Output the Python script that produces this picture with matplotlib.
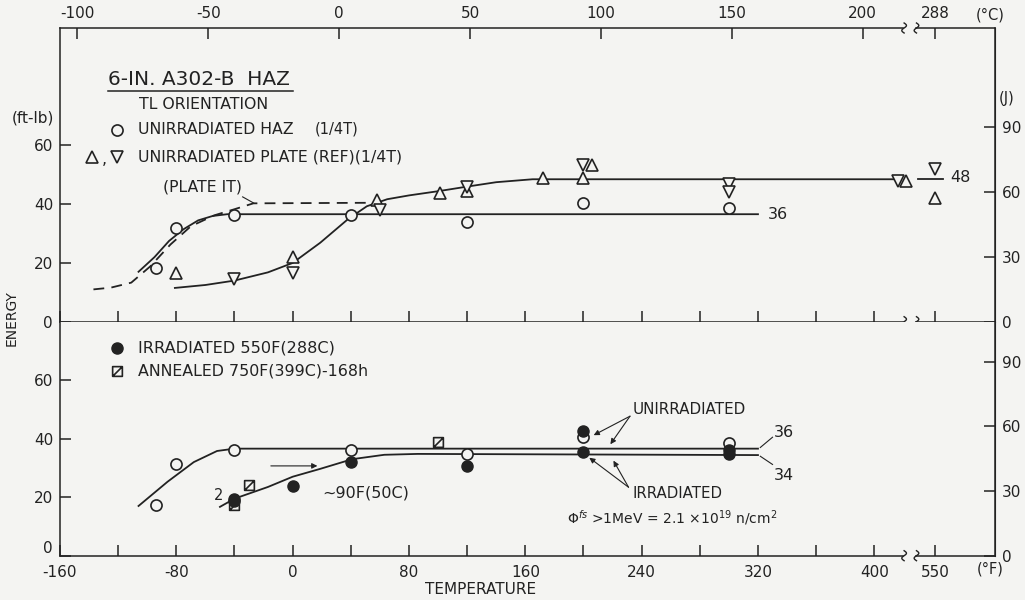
import numpy as np
import matplotlib.pyplot as plt
from matplotlib.path import Path

INK = '#222222'
BG = '#f4f4f2'

# ---- top panel data (temperature F, energy ft-lb) ----
haz_T = [-94, -80, -40, 40, 120, 200, 300]
haz_E = [18.3, 31.9, 36.4, 36.4, 34.0, 40.4, 38.7]
plate_up_T = [-80, 0, 58, 101, 120, 172, 200, 206, 422, 550]
plate_up_E = [16.5, 22.1, 41.5, 43.8, 44.4, 49.0, 49.0, 53.3, 48.0, 42.0]
plate_dn_T = [-40, 0, 60, 120, 200, 300, 300, 416, 550]
plate_dn_E = [14.4, 16.7, 38.0, 46.0, 53.5, 46.8, 44.0, 47.9, 52.0]

# fitted curves
haz_curve_T = [-106, -95, -85, -75, -65, -55, -45, -38, 320]
haz_curve_E = [17, 22, 27.5, 31.5, 34.5, 36, 36.6, 36.6, 36.6]
plate_it_T = [-137, -125, -111, -98, -84, -70, -54, -40, -27, 58]
plate_it_E = [11, 11.6, 13.3, 18.8, 26.3, 32.5, 36.2, 38.3, 40.3, 40.5]
plate_curve_T = [-81, -60, -40, -17, 0, 19, 38, 51, 65, 80, 101, 120, 140, 165, 416]
plate_curve_E = [11.5, 12.5, 14, 16.8, 20, 26.9, 34.9, 39.3, 41.7, 43, 44.5, 46, 47.5, 48.5, 48.5]
plate_tail_T = [538, 555]
plate_tail_E = [48.5, 48.5]

# ---- bottom panel data ----
unirr_T = [-94, -80, -40, 40, 120, 200, 300]
unirr_E = [17.5, 31.5, 36.0, 36.0, 34.6, 40.6, 38.6]
irr_T = [-40, -40, 0, 40, 120, 200, 200, 300, 300]
irr_E = [19.4, 18.6, 23.9, 32.1, 30.6, 42.7, 35.5, 36.3, 34.8]
ann_T = [-40, -30, 100]
ann_E = [17.3, 24.1, 38.9]

unirr_curve_T = [-106, -86, -68, -52, -40, 320]
unirr_curve_E = [17, 25.3, 32, 35.8, 36.6, 36.6]
irr_curve_T = [-50, -40, -17, 0, 19, 41, 63, 86, 320]
irr_curve_E = [16.7, 19.5, 23.5, 27, 29.7, 33, 34.5, 34.8, 34.4]

# axis ticks
f_ticks = [-160, -120, -80, -40, 0, 40, 80, 120, 160, 200, 240, 280, 320, 360, 400, 550]
f_labels = ['-160', '', '-80', '', '0', '', '80', '', '160', '', '240', '', '320', '', '400', '550']
c_ticks = [-100, -50, 0, 50, 100, 150, 200, 288]
j_ticks = [0, 30, 60, 90]


def xpos(t):
    # scale is broken between 420 and 550 F
    t = np.asarray(t, dtype=float)
    return np.where(t > 450, t - 108, t)


plt.rcParams['font.family'] = ['DejaVu Sans']
fig = plt.figure(figsize=(10.25, 6), dpi=100, facecolor=BG)
ax1 = fig.add_axes([60 / 1025, 1 - 321.7 / 600, 935 / 1025, 293.7 / 600])
ax2 = fig.add_axes([60 / 1025, 1 - 555.7 / 600, 935 / 1025, 234 / 600])

open_kw = dict(ls='none', ms=8, mfc=BG, mec=INK, mew=1.2, zorder=4, clip_on=False)
lw = 1.3
FS = 11.3

# annealed marker: square with a slash
sq = Path([(-1, -1), (1, -1), (1, 1), (-1, 1), (-1, -1), (-1, -1), (1, 1)],
          [Path.MOVETO, Path.LINETO, Path.LINETO, Path.LINETO, Path.CLOSEPOLY,
           Path.MOVETO, Path.LINETO])

for ax in (ax1, ax2):
    ax.set_facecolor(BG)
    ax.set_xlim(-160, 483)
    for s in ('top', 'bottom'):
        ax.spines[s].set_visible(False)
    for s in ('left', 'right'):
        ax.spines[s].set_color(INK)
        ax.spines[s].set_linewidth(1.1)
    ax.set_xticks(xpos(f_ticks))
    ax.tick_params(direction='in', length=8, width=1.1, color=INK,
                   labelsize=11, labelcolor=INK, pad=5)

ax2.tick_params(axis='x', pad=6.5)
ax1.set_xticklabels([])
ax2.set_xticklabels(f_labels)
ax1.set_ylim(0, 100)
ax2.set_ylim(0, 80)
ax1.set_yticks([0, 20, 40, 60])
ax2.set_yticks([0, 20, 40, 60])
ax2.get_yticklabels()[0].set_verticalalignment('bottom')

# broken horizontal axis lines
wig = np.linspace(-1, 1, 30)
for ax, yy, h in ((ax1, 1, 293.7), (ax1, 0, 293.7), (ax2, 0, 234)):
    tr = ax.get_xaxis_transform()
    ax.plot([-160, 420], [yy, yy], color=INK, lw=1.1, transform=tr, clip_on=False)
    ax.plot([429, 483], [yy, yy], color=INK, lw=1.1, transform=tr, clip_on=False)
    for x0 in (420.5, 429):
        ax.plot(x0 + 1.6 * np.sin(np.pi * wig), yy + wig * 5 / h, color=INK,
                lw=1.0, transform=tr, clip_on=False)

# top C axis
sec = ax1.secondary_xaxis('top', functions=(lambda x: x, lambda x: x))
sec.set_xticks([c * 1.8 + 32 if c < 250 else 442 for c in c_ticks],
               [str(c) for c in c_ticks])
sec.spines['top'].set_visible(False)
sec.tick_params(direction='in', length=8, width=1.1, color=INK, labelsize=11,
                labelcolor=INK, pad=5)

# right J axes
for ax in (ax1, ax2):
    sy = ax.secondary_yaxis('right', functions=(lambda e: e * 1.3558, lambda j: j / 1.3558))
    sy.set_yticks(j_ticks)
    sy.spines['right'].set_color(INK)
    sy.tick_params(direction='in', length=8, width=1.1, color=INK, labelsize=11,
                   labelcolor=INK, pad=5)

# ---- top panel drawing ----
ax1.plot(haz_curve_T, haz_curve_E, color=INK, lw=lw)
ax1.plot(plate_it_T, plate_it_E, color=INK, lw=lw, ls=(0, (6, 4)))
ax1.plot(plate_curve_T, plate_curve_E, color=INK, lw=lw)
ax1.plot(xpos(plate_tail_T), plate_tail_E, color=INK, lw=lw, clip_on=False)
ax1.plot(haz_T, haz_E, marker='o', **open_kw)
ax1.plot(xpos(plate_up_T), plate_up_E, marker='^', **open_kw)
ax1.plot(xpos(plate_dn_T), plate_dn_E, marker='v', **open_kw)

ax1.text(-127, 82.3, '6-IN. A302-B  HAZ', fontsize=14.5, color=INK, va='center')
ax1.plot([-127, 0], [78.6, 78.6], color=INK, lw=1.1)
ax1.text(-106, 73.8, 'TL ORIENTATION', fontsize=FS, color=INK, va='center')
ax1.plot([-121], [65.3], marker='o', **open_kw)
ax1.text(-106.5, 65.3, 'UNIRRADIATED HAZ', fontsize=FS, color=INK, va='center')
ax1.text(15, 65.6, '(1/4T)', fontsize=10.5, color=INK, va='center')
ax1.plot([-138], [56.1], marker='^', **open_kw)
ax1.text(-131.5, 55.2, ',', fontsize=FS, color=INK, va='center')
ax1.plot([-120.5], [56.1], marker='v', **open_kw)
ax1.text(-106.5, 56.1, 'UNIRRADIATED PLATE (REF)(1/4T)', fontsize=FS, color=INK, va='center')
ax1.text(-62, 46, '(PLATE IT)', fontsize=FS, color=INK, va='center', ha='center')
ax1.plot([-34.4, -26.8], [42.5, 40.4], color=INK, lw=0.8)
ax1.text(326.5, 36.6, '36', fontsize=11.5, color=INK, va='center')
ax1.text(452, 49, '48', fontsize=11.5, color=INK, va='center')

# ---- bottom panel drawing ----
ax2.plot(unirr_curve_T, unirr_curve_E, color=INK, lw=lw)
ax2.plot(irr_curve_T, irr_curve_E, color=INK, lw=lw)
ax2.plot(unirr_T, unirr_E, marker='o', **open_kw)
ax2.plot(irr_T, irr_E, ls='none', marker='o', ms=8, color=INK, zorder=5)
ax2.plot(ann_T, ann_E, marker=sq, **dict(open_kw, ms=7))

ax2.plot([-121], [70.9], ls='none', marker='o', ms=8, color=INK, clip_on=False)
ax2.text(-106.5, 70.9, 'IRRADIATED 550F(288C)', fontsize=11.6, color=INK, va='center')
ax2.plot([-121], [63], marker=sq, **dict(open_kw, ms=7))
ax2.text(-106.5, 63, 'ANNEALED 750F(399C)-168h', fontsize=11.4, color=INK, va='center')
ax2.text(-51, 20.5, '2', fontsize=10.5, color=INK, va='center', ha='center')

arr = dict(arrowstyle='-|>', lw=0.8, color=INK, mutation_scale=8, shrinkA=0, shrinkB=0)
ax2.annotate('', xy=(17, 30.7), xytext=(-15, 30.7), arrowprops=arr)
ax2.text(20.6, 21.4, '~90F(50C)', fontsize=11.5, color=INK, va='center')
ax2.text(234, 50, 'UNIRRADIATED', fontsize=10.9, color=INK, va='center')
ax2.annotate('', xy=(207, 41.2), xytext=(232, 47.7), arrowprops=arr)
ax2.annotate('', xy=(218.5, 38.1), xytext=(232, 47.7), arrowprops=arr)
ax2.text(234, 21.4, 'IRRADIATED', fontsize=10.8, color=INK, va='center')
ax2.annotate('', xy=(204, 33.5), xytext=(231, 23.4), arrowprops=arr)
ax2.annotate('', xy=(220.6, 32.5), xytext=(231, 23.4), arrowprops=arr)
ax2.text(330.6, 42.2, '36', fontsize=11.5, color=INK, va='center')
ax2.text(330.6, 27.5, '34', fontsize=11.5, color=INK, va='center')
ax2.plot([321.6, 330], [37, 40.5], color=INK, lw=0.8)
ax2.plot([321.6, 330], [34, 31.2], color=INK, lw=0.8)
ax2.text(189, 12.9, r'$\Phi^{fs}$ >1MeV = 2.1 $\times$10$^{19}$ n/cm$^2$',
         fontsize=10, color=INK, va='center')

# axis titles / units
fig.text(33 / 1025, 1 - 118 / 600, '(ft-lb)', fontsize=11, color=INK, ha='center', va='center')
fig.text(12 / 1025, 1 - 318 / 600, 'ENERGY', fontsize=10, color=INK, ha='center',
         va='center', rotation=90)
fig.text(481 / 1025, 1 - 589 / 600, 'TEMPERATURE', fontsize=11, color=INK, ha='center', va='center')
fig.text(1007 / 1025, 1 - 98 / 600, '(J)', fontsize=10.5, color=INK, ha='center', va='center')
fig.text(990 / 1025, 1 - 15 / 600, '(°C)', fontsize=10.5, color=INK, ha='center', va='center')
fig.text(990 / 1025, 1 - 569 / 600, '(°F)', fontsize=10.5, color=INK, ha='center', va='center')

fig.savefig('out.png', dpi=100, facecolor=BG)
